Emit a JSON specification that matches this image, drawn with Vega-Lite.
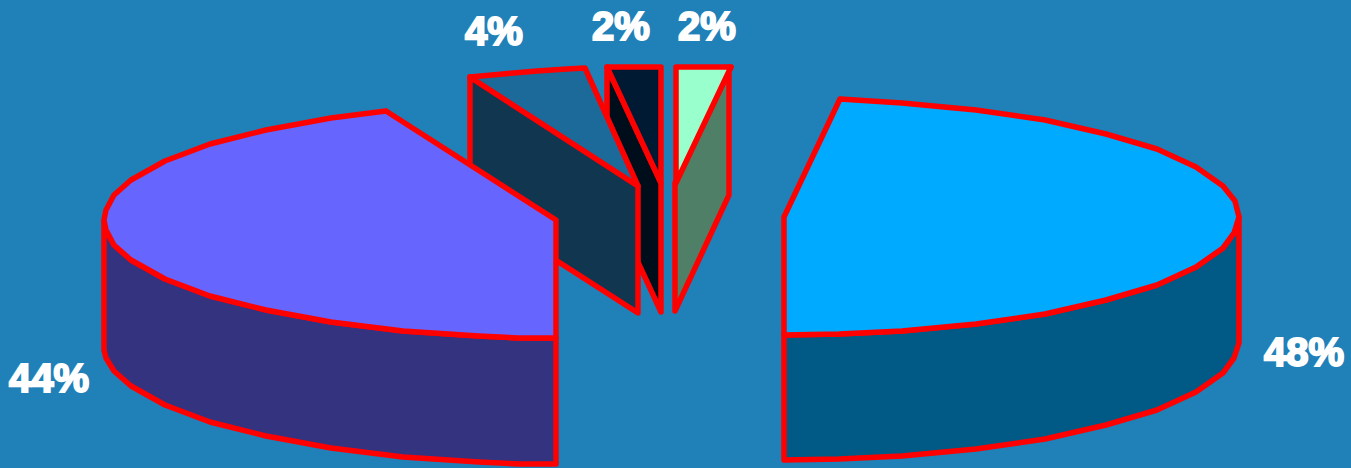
{"$schema":"https://vega.github.io/schema/vega-lite/v6.json","width":1351,"height":468,"autosize":{"type":"none"},"padding":0,"background":"#2080B8","view":{"stroke":null},"layer":[{"data":{"values":[
{"p":"d_side","i":0,"x":607,"y":67},{"p":"d_side","i":1,"x":661,"y":183},{"p":"d_side","i":2,"x":661,"y":312},{"p":"d_side","i":3,"x":607,"y":195},{"p":"d_side","i":4,"x":607,"y":67},
{"p":"d_top","i":0,"x":607,"y":67},{"p":"d_top","i":1,"x":661,"y":67},{"p":"d_top","i":2,"x":661,"y":183},{"p":"d_top","i":3,"x":607,"y":67},
{"p":"m_side","i":0,"x":470,"y":77},{"p":"m_side","i":1,"x":638,"y":186},{"p":"m_side","i":2,"x":638,"y":313},{"p":"m_side","i":3,"x":470,"y":205},{"p":"m_side","i":4,"x":470,"y":77},
{"p":"m_top","i":0,"x":470,"y":77},{"p":"m_top","i":1,"x":503,"y":74},{"p":"m_top","i":2,"x":537,"y":71},{"p":"m_top","i":3,"x":567,"y":69},{"p":"m_top","i":4,"x":585,"y":68},{"p":"m_top","i":5,"x":638,"y":186},{"p":"m_top","i":6,"x":470,"y":77},
{"p":"l_side","i":0,"x":104,"y":222},{"p":"l_side","i":1,"x":106,"y":230},{"p":"l_side","i":2,"x":114,"y":245},{"p":"l_side","i":3,"x":131,"y":260},{"p":"l_side","i":4,"x":165,"y":279},{"p":"l_side","i":5,"x":210,"y":296},{"p":"l_side","i":6,"x":266,"y":310},{"p":"l_side","i":7,"x":331,"y":322},{"p":"l_side","i":8,"x":403,"y":331},{"p":"l_side","i":9,"x":479,"y":336},{"p":"l_side","i":10,"x":518,"y":338},{"p":"l_side","i":11,"x":556,"y":338},{"p":"l_side","i":12,"x":556,"y":464},{"p":"l_side","i":13,"x":518,"y":464},{"p":"l_side","i":14,"x":479,"y":462},{"p":"l_side","i":15,"x":403,"y":457},{"p":"l_side","i":16,"x":331,"y":448},{"p":"l_side","i":17,"x":266,"y":436},{"p":"l_side","i":18,"x":210,"y":422},{"p":"l_side","i":19,"x":165,"y":405},{"p":"l_side","i":20,"x":131,"y":386},{"p":"l_side","i":21,"x":114,"y":371},{"p":"l_side","i":22,"x":106,"y":358},{"p":"l_side","i":23,"x":104,"y":350},{"p":"l_side","i":24,"x":104,"y":222},
{"p":"l_top","i":0,"x":386,"y":111},{"p":"l_top","i":1,"x":331,"y":118},{"p":"l_top","i":2,"x":266,"y":130},{"p":"l_top","i":3,"x":210,"y":144},{"p":"l_top","i":4,"x":165,"y":161},{"p":"l_top","i":5,"x":131,"y":180},{"p":"l_top","i":6,"x":114,"y":195},{"p":"l_top","i":7,"x":106,"y":210},{"p":"l_top","i":8,"x":104,"y":220},{"p":"l_top","i":9,"x":106,"y":230},{"p":"l_top","i":10,"x":114,"y":245},{"p":"l_top","i":11,"x":131,"y":260},{"p":"l_top","i":12,"x":165,"y":279},{"p":"l_top","i":13,"x":210,"y":296},{"p":"l_top","i":14,"x":266,"y":310},{"p":"l_top","i":15,"x":331,"y":322},{"p":"l_top","i":16,"x":403,"y":331},{"p":"l_top","i":17,"x":479,"y":336},{"p":"l_top","i":18,"x":518,"y":338},{"p":"l_top","i":19,"x":556,"y":338},{"p":"l_top","i":20,"x":556,"y":220},{"p":"l_top","i":21,"x":386,"y":111},
{"p":"r_side","i":0,"x":1239,"y":217},{"p":"r_side","i":1,"x":1234,"y":233},{"p":"r_side","i":2,"x":1223,"y":248},{"p":"r_side","i":3,"x":1196,"y":267},{"p":"r_side","i":4,"x":1157,"y":285},{"p":"r_side","i":5,"x":1106,"y":300},{"p":"r_side","i":6,"x":1045,"y":314},{"p":"r_side","i":7,"x":976,"y":324},{"p":"r_side","i":8,"x":902,"y":331},{"p":"r_side","i":9,"x":839,"y":334},{"p":"r_side","i":10,"x":784,"y":335},{"p":"r_side","i":11,"x":784,"y":460},{"p":"r_side","i":12,"x":839,"y":459},{"p":"r_side","i":13,"x":902,"y":456},{"p":"r_side","i":14,"x":976,"y":449},{"p":"r_side","i":15,"x":1045,"y":439},{"p":"r_side","i":16,"x":1106,"y":425},{"p":"r_side","i":17,"x":1157,"y":410},{"p":"r_side","i":18,"x":1196,"y":392},{"p":"r_side","i":19,"x":1223,"y":373},{"p":"r_side","i":20,"x":1234,"y":358},{"p":"r_side","i":21,"x":1239,"y":343},{"p":"r_side","i":22,"x":1239,"y":217},
{"p":"r_top","i":0,"x":840,"y":99},{"p":"r_top","i":1,"x":902,"y":103},{"p":"r_top","i":2,"x":976,"y":110},{"p":"r_top","i":3,"x":1045,"y":120},{"p":"r_top","i":4,"x":1106,"y":134},{"p":"r_top","i":5,"x":1157,"y":149},{"p":"r_top","i":6,"x":1196,"y":167},{"p":"r_top","i":7,"x":1223,"y":186},{"p":"r_top","i":8,"x":1235,"y":201},{"p":"r_top","i":9,"x":1239,"y":217},{"p":"r_top","i":10,"x":1234,"y":233},{"p":"r_top","i":11,"x":1223,"y":248},{"p":"r_top","i":12,"x":1196,"y":267},{"p":"r_top","i":13,"x":1157,"y":285},{"p":"r_top","i":14,"x":1106,"y":300},{"p":"r_top","i":15,"x":1045,"y":314},{"p":"r_top","i":16,"x":976,"y":324},{"p":"r_top","i":17,"x":902,"y":331},{"p":"r_top","i":18,"x":839,"y":334},{"p":"r_top","i":19,"x":784,"y":335},{"p":"r_top","i":20,"x":784,"y":217},{"p":"r_top","i":21,"x":840,"y":99},
{"p":"g_side","i":0,"x":731,"y":67},{"p":"g_side","i":1,"x":675,"y":183},{"p":"g_side","i":2,"x":675,"y":311},{"p":"g_side","i":3,"x":729,"y":195},{"p":"g_side","i":4,"x":729,"y":67},
{"p":"g_top","i":0,"x":676,"y":67},{"p":"g_top","i":1,"x":731,"y":67},{"p":"g_top","i":2,"x":676,"y":183},{"p":"g_top","i":3,"x":676,"y":67}
]},"mark":{"type":"line","stroke":"#FF0000","strokeWidth":5.5,"strokeJoin":"round","strokeCap":"round"},"encoding":{"x":{"field":"x","type":"quantitative","scale":{"domain":[0,1351]},"axis":null},"y":{"field":"y","type":"quantitative","scale":{"domain":[468,0]},"axis":null},"order":{"field":"i","type":"quantitative"},"detail":{"field":"p"},"fill":{"field":"p","type":"nominal","legend":null,"scale":{"domain":["d_side","d_top","m_side","m_top","l_side","l_top","r_side","r_top","g_side","g_top"],"range":["#000D1A","#001A33","#10374F","#1C6A99","#333380","#6666FF","#005A85","#00AAFF","#4F8067","#99FFCC"]}}}},{"data":{"values":[{"t":"44%","x":49,"y":392},{"t":"48%","x":1304,"y":366},{"t":"4%","x":494,"y":45},{"t":"2%","x":621,"y":40},{"t":"2%","x":707,"y":40}]},"mark":{"type":"text","font":"Liberation Sans","fontWeight":"bold","fontSize":40,"color":"#FFFFFF","stroke":"#FFFFFF","strokeWidth":2,"align":"center","baseline":"alphabetic"},"encoding":{"x":{"field":"x","type":"quantitative","scale":{"domain":[0,1351]},"axis":null},"y":{"field":"y","type":"quantitative","scale":{"domain":[468,0]},"axis":null},"text":{"field":"t"}}}]}
